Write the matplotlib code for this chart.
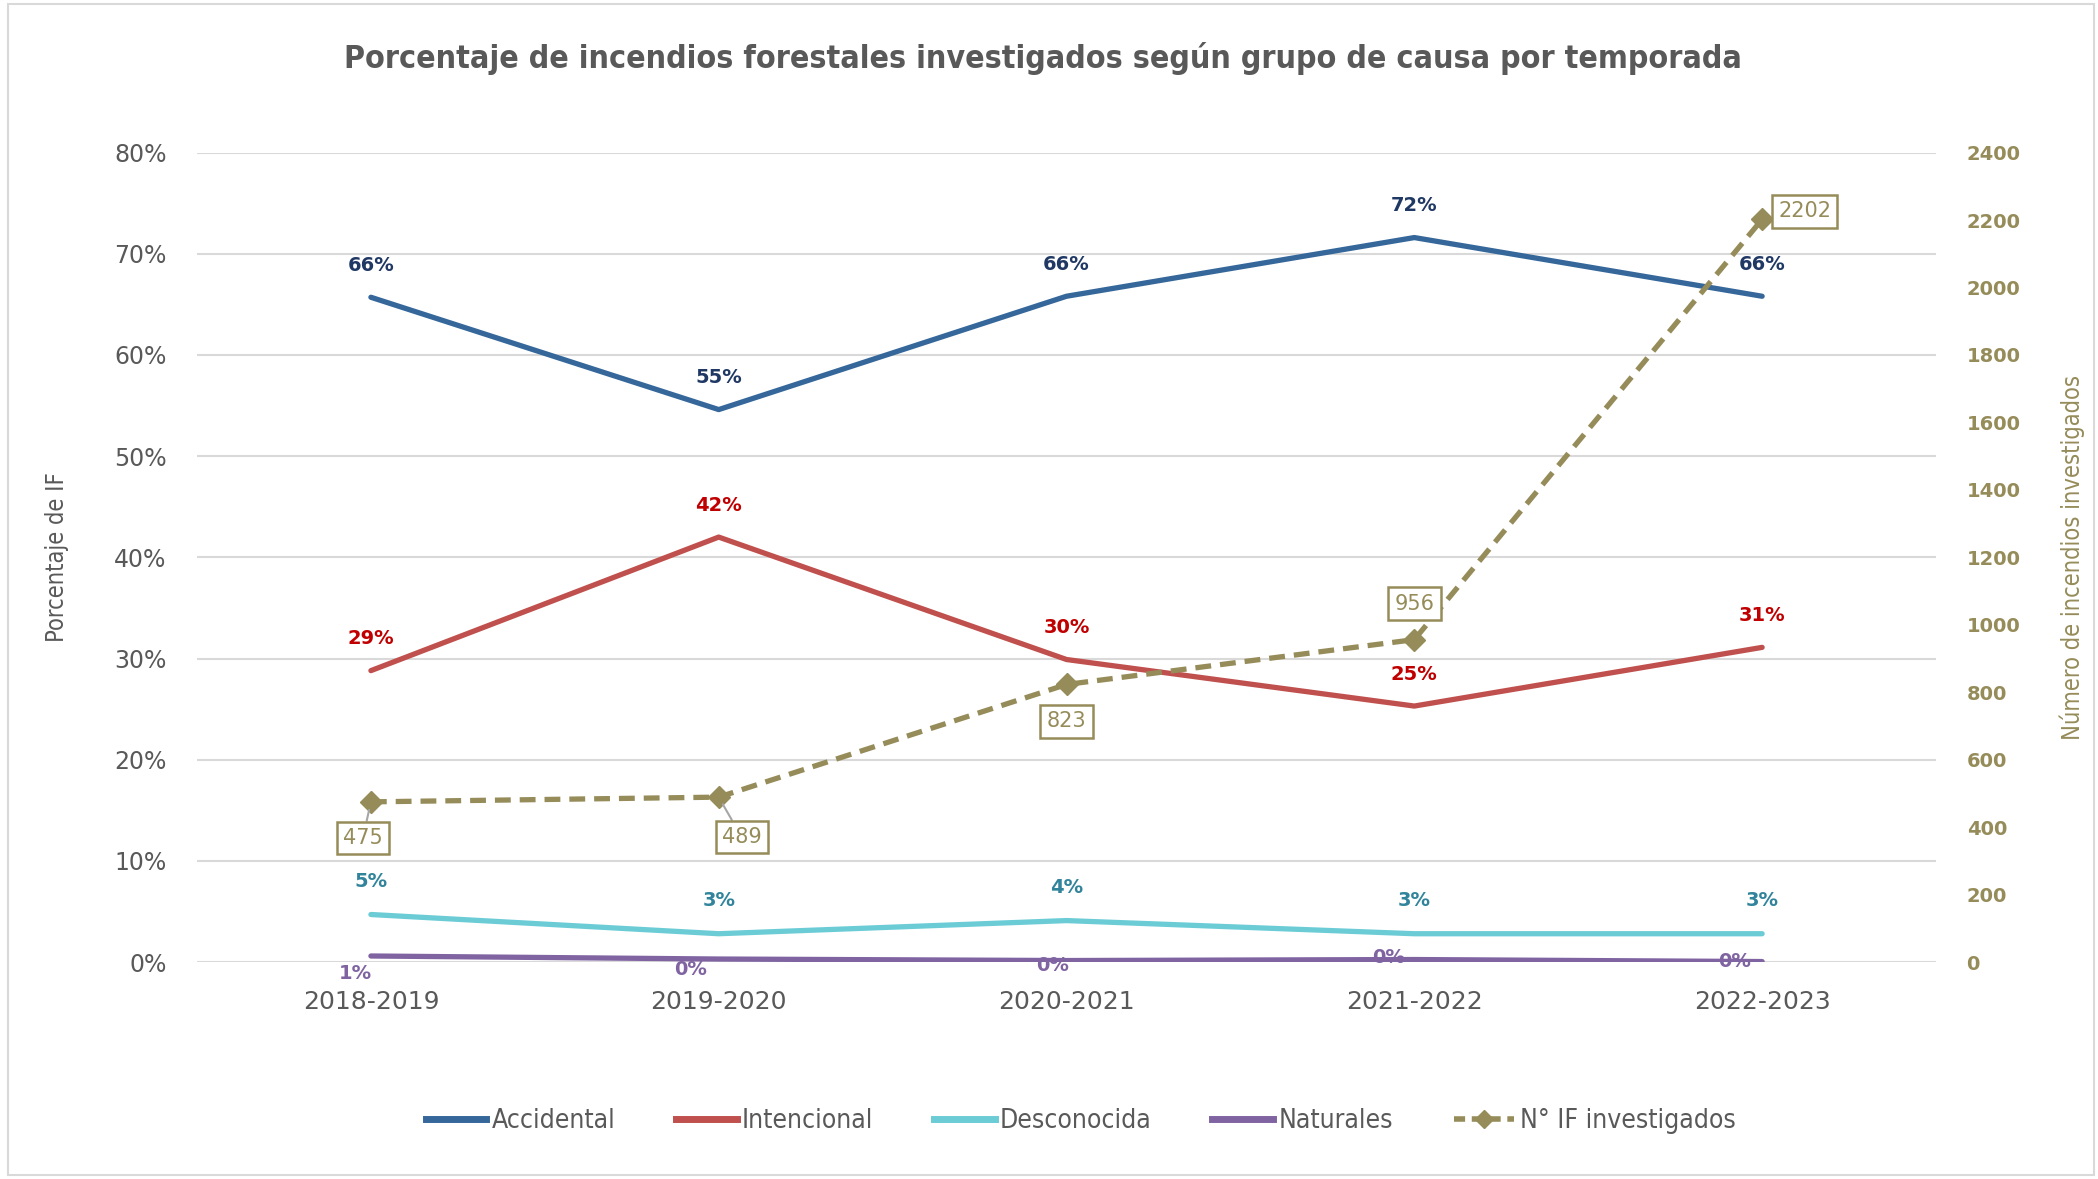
import matplotlib
matplotlib.use("Agg")
import matplotlib.pyplot as plt
from matplotlib.lines import Line2D
from matplotlib.patches import Rectangle
from matplotlib.ticker import FuncFormatter, MultipleLocator

seasons = ["2018-2019", "2019-2020", "2020-2021", "2021-2022", "2022-2023"]
accidental = [65.7, 54.6, 65.8, 71.6, 65.8]
intencional = [28.8, 42.0, 29.9, 25.3, 31.1]
desconocida = [4.7, 2.8, 4.1, 2.8, 2.8]
naturales = [0.6, 0.3, 0.15, 0.25, 0.05]
investigados = [475, 489, 823, 956, 2202]

acc_lbl = ["66%", "55%", "66%", "72%", "66%"]
int_lbl = ["29%", "42%", "30%", "25%", "31%"]
des_lbl = ["5%", "3%", "4%", "3%", "3%"]
nat_lbl = ["1%", "0%", "0%", "0%", "0%"]

NARROW = ["DejaVu Sans"]
STRETCH = "condensed"

GREY = "#595959"
C_ACC = "#35679A"
C_INT = "#C0504D"
C_DES = "#6BCCD6"
C_NAT = "#8064A2"
C_IF = "#968C5A"

fig = plt.figure(figsize=(20.98, 11.79), dpi=100)
fig.patches.append(Rectangle((0.004, 0.003), 0.994, 0.994, transform=fig.transFigure,
                             fill=False, edgecolor="#D9D9D9", linewidth=1.5))
ax = fig.add_axes([0.0939, 0.184, 0.8289, 0.6866])
ax2 = ax.twinx()

x = list(range(len(seasons)))
ax.plot(x, accidental, color=C_ACC, lw=3.8, solid_capstyle="round", zorder=3)
ax.plot(x, intencional, color=C_INT, lw=3.8, solid_capstyle="round", zorder=3)
ax.plot(x, desconocida, color=C_DES, lw=3.8, solid_capstyle="round", zorder=3)
ax.plot(x, naturales, color=C_NAT, lw=3.8, solid_capstyle="round", zorder=3)

ax.set_xlim(-0.5, 4.5)
ax.set_ylim(0, 80)
ax.yaxis.set_major_locator(MultipleLocator(10))
ax.yaxis.set_major_formatter(FuncFormatter(lambda v, p: f"{v:.0f}%"))
ax.grid(axis="y", color="#D9D9D9", lw=1.5)
ax.set_axisbelow(True)
for s in ax.spines.values():
    s.set_visible(False)
for s in ax2.spines.values():
    s.set_visible(False)
ax.tick_params(axis="both", length=0, colors=GREY, labelsize=17)
ax.tick_params(axis="y", pad=22)
ax.tick_params(axis="x", pad=20)
ax.set_xticks(x)
ax.set_xticklabels(seasons, fontsize=18, color=GREY)
ax.set_ylabel("Porcentaje de IF", fontsize=17, color=GREY, family=NARROW, stretch=STRETCH,
              labelpad=32)

ax2.plot(x, investigados, color=C_IF, lw=3.8, dashes=(3, 1.7), marker="D", markersize=11,
         zorder=4)
ax2.set_ylim(0, 2400)
ax2.yaxis.set_major_locator(MultipleLocator(200))
ax2.tick_params(axis="y", length=0, colors=C_IF, labelsize=14, pad=22)
for t in ax2.get_yticklabels():
    t.set_fontweight("bold")
ax2.set_ylabel("Número de incendios investigados", fontsize=17, color=C_IF, family=NARROW,
               stretch=STRETCH, labelpad=28)

def lab(axis, xs, ys, texts, color, dx, dy, size=14):
    for xi, yi, t in zip(xs, ys, texts):
        axis.annotate(t, (xi, yi), xytext=(dx, dy), textcoords="offset pixels",
                      ha="center", va="center", color=color, fontsize=size,
                      fontweight="bold", zorder=6)

lab(ax, x, accidental, acc_lbl, "#1F3864", 0, 32)
lab(ax, x, intencional, int_lbl, "#C00000", 0, 32)
lab(ax, x, desconocida, des_lbl, "#31849B", 0, 33)
nat_dx = [-16, -28, -14, -26, -28]
nat_dy = [-18, -10, -5, 2, 0]
for xi, yi, t, ddx, ddy in zip(x, naturales, nat_lbl, nat_dx, nat_dy):
    ax.annotate(t, (xi, yi), xytext=(ddx, ddy), textcoords="offset pixels",
                ha="center", va="center", color=C_NAT, fontsize=14, fontweight="bold",
                zorder=6)

box_off = [(-8, -36), (23, -40), (0, -37), (0, 36), (16, 8)]
box_ha = ["center", "center", "center", "center", "left"]
for i, (xi, yi) in enumerate(zip(x, investigados)):
    dx, dy = box_off[i]
    arrow = dict(arrowstyle="-", color="#A6A6A6", lw=1.5, shrinkA=0, shrinkB=6) if i < 2 else None
    ax2.annotate(f"{yi}", (xi, yi), xytext=(dx, dy), textcoords="offset pixels",
                 ha=box_ha[i], va="center", color=C_IF, fontsize=15,
                 bbox=dict(boxstyle="square,pad=0.3", fc="white", ec=C_IF, lw=1.8),
                 arrowprops=arrow, zorder=7)

fig.suptitle("Porcentaje de incendios forestales investigados según grupo de causa por temporada",
             x=0.497, y=0.964, fontsize=23, fontweight="bold", color=GREY, family=NARROW,
             stretch=STRETCH)

handles = [
    Line2D([], [], color=C_ACC, lw=5),
    Line2D([], [], color=C_INT, lw=5),
    Line2D([], [], color=C_DES, lw=5),
    Line2D([], [], color=C_NAT, lw=5),
    Line2D([], [], color=C_IF, lw=4, dashes=(2, 1.2), marker="D", markersize=9),
]
names = ["Accidental", "Intencional", "Desconocida", "Naturales", "N° IF investigados"]
leg = fig.legend(handles, names, loc="center", bbox_to_anchor=(0.515, 0.049), ncol=5,
                 frameon=False, prop={"family": NARROW, "size": 19, "stretch": STRETCH},
                 handlelength=2.3, handletextpad=0.2, columnspacing=2.3, labelcolor=GREY)

fig.savefig("out.png", dpi=100)
